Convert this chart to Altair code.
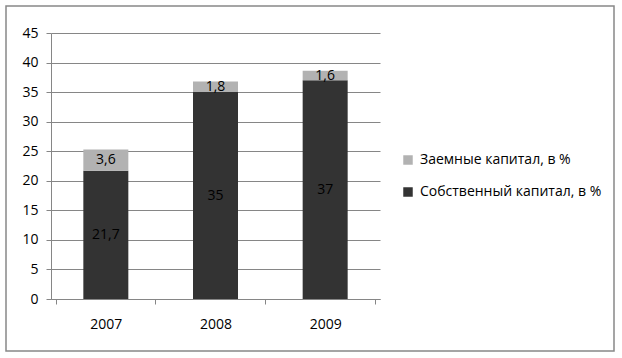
import altair as alt
import pandas as pd

years = ["2007", "2008", "2009"]
own = [21.7, 35, 37]
borrowed = [3.6, 1.8, 1.6]
own_labels = ["21,7", "35", "37"]
borrowed_labels = ["3,6", "1,8", "1,6"]
s_own = "Собственный капитал, в %"
s_bor = "Заемные капитал, в %"
y_ticks = [0, 5, 10, 15, 20, 25, 30, 35, 40, 45]

rows = []
for i, y in enumerate(years):
    rows.append({"year": y, "series": s_own, "label": own_labels[i],
                 "start": 0, "end": own[i]})
    rows.append({"year": y, "series": s_bor, "label": borrowed_labels[i],
                 "start": own[i], "end": own[i] + borrowed[i]})
df = pd.DataFrame(rows)
df["mid"] = (df["start"] + df["end"]) / 2

FONT = "Open Sans"
yscale = alt.Scale(domain=[0, 45], nice=False, zero=True)
xaxis = alt.Axis(labelAngle=0, labelFontSize=14, labelColor="#000", labelFont=FONT,
                 labelPadding=13, domainColor="#868686", tickColor="#868686",
                 tickBand="extent", tickSize=5, grid=False, title=None)
yaxis = alt.Axis(values=y_ticks, labelFontSize=14, labelColor="#000", labelOverlap=False,
                 labelFont=FONT, labelPadding=8, domainColor="#868686", title=None,
                 tickColor="#868686", tickSize=5, gridColor="#868686", gridOpacity=1)

base = alt.Chart(df)

bars = base.mark_bar(width=45).encode(
    x=alt.X("year:N", sort=years, axis=xaxis),
    y=alt.Y("start:Q", scale=yscale, axis=yaxis),
    y2="end:Q",
    color=alt.Color("series:N",
                    scale=alt.Scale(domain=[s_bor, s_own], range=["#b2b2b2", "#333333"]),
                    legend=alt.Legend(title=None, orient="none", legendX=350, legendY=120,
                                      symbolType="square", symbolSize=90, symbolStrokeWidth=0,
                                      labelFontSize=14, labelFont=FONT, labelColor="#000",
                                      labelLimit=400, rowPadding=18, labelOffset=5)),
)

labels = base.mark_text(fontSize=14, font=FONT, color="#000", baseline="middle").encode(
    x=alt.X("year:N", sort=years, axis=xaxis),
    y=alt.Y("mid:Q", scale=yscale, axis=yaxis),
    text="label:N",
)

border = alt.Chart(pd.DataFrame({"a": [0]})).mark_rect(
    fill=None, stroke="#888888", strokeWidth=1.5, clip=False
).encode(x=alt.value(-45), x2=alt.value(563), y=alt.value(-27), y2=alt.value(318))

chart = alt.layer(border, bars, labels).properties(
    width=329, height=266,
    autosize=alt.AutoSizeParams(type="none"),
    padding={"left": 51, "top": 33, "right": 242, "bottom": 59},
).configure_view(stroke=None)

chart.save("out.html", embed_options={"renderer": "svg", "actions": False})
